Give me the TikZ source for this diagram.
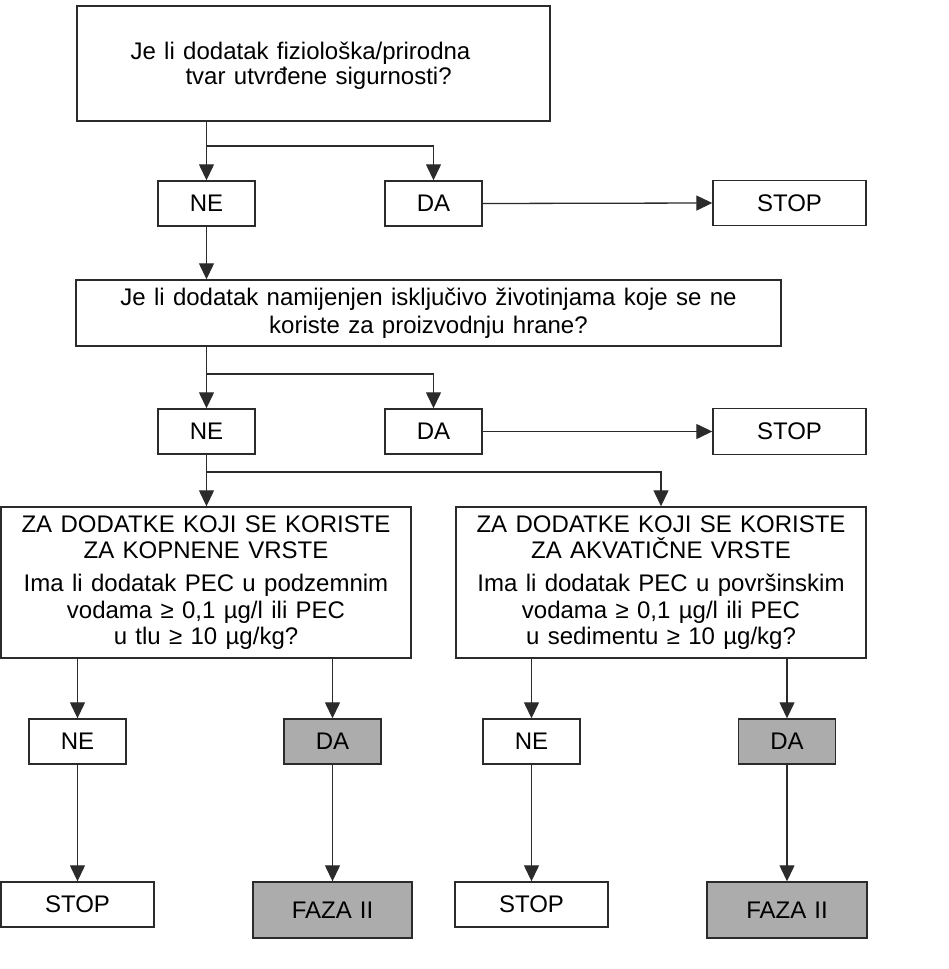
\documentclass[tikz,border=0pt]{standalone}
\usepackage{fontspec}
\setmainfont{Liberation Sans}[WordSpace=1.25]
\usetikzlibrary{arrows.meta}
\definecolor{ink}{HTML}{2B2B2B}
\definecolor{shade}{RGB}{172,172,172}
\begin{document}
\begin{tikzpicture}[x=1pt,y=-1pt,
  box/.style={draw=ink, line width=1.4pt, rectangle, inner sep=0pt,
    font=\fontsize{24}{26.5}\selectfont, align=center},
  small/.style={box, minimum width=97pt, minimum height=45pt},
  shaded/.style={fill=shade},
  arr/.style={draw=ink, line width=1.3pt, -{Triangle[width=15pt,length=16pt]}},
  ln/.style={draw=ink, line width=1.3pt},
  txt/.style={inner sep=0pt, font=\fontsize{24}{25}\selectfont}]
\useasboundingbox (0,0) rectangle (948,969);

% top question
\node[box, minimum width=473pt, minimum height=115pt] (q1) at (313.5,63.5) {};
\node[txt, align=left] (q1t) at (300.5,65.5)
  {Je li dodatak fiziološka/prirodna\\\hspace*{55pt}tvar utvrđene sigurnosti?};

\node[small] (ne1) at (206.5,203.5) {NE};
\node[small] (da1) at (433.5,203.5) {DA};
\node[box, minimum width=153pt, minimum height=45pt] (stop1) at (789.5,203) {STOP};

% second question
\node[box, minimum width=705pt, minimum height=66pt,
  font=\fontsize{24}{27.5}\selectfont] (q2) at (428.5,313)
  {Je li dodatak namijenjen isključivo životinjama koje se ne\\koriste za proizvodnju hrane?};

\node[small] (ne2) at (206.5,431.5) {NE};
\node[small] (da2) at (433.5,431.5) {DA};
\node[box, minimum width=153pt, minimum height=46pt] (stop2) at (789.5,431.5) {STOP};

% third level
\node[box, minimum width=410pt, minimum height=151pt] (q4) at (661,582.5)
  {ZA DODATKE KOJI SE KORISTE\\ZA AKVATIČNE VRSTE\\[6.5pt]Ima li dodatak PEC u površinskim\\vodama ≥ 0,1 µg/l ili PEC\\u sedimentu ≥ 10 µg/kg?};
\node[box, minimum width=410pt, minimum height=151pt] (q3) at (206,582.5)
  {ZA DODATKE KOJI SE KORISTE\\ZA KOPNENE VRSTE\\[6.5pt]Ima li dodatak PEC u podzemnim\\vodama ≥ 0,1 µg/l ili PEC\\u tlu ≥ 10 µg/kg?};

\node[small] (ne3) at (77.5,741.5) {NE};
\node[small, shaded] (da3) at (332.5,741.5) {DA};
\node[small] (ne4) at (531.5,741.5) {NE};
\node[small, shaded] (da4) at (787,741.5) {DA};

\node[box, minimum width=153pt, minimum height=45pt] (stop3) at (77.5,904.5) {STOP};
\node[box, shaded, minimum width=159pt, minimum height=56pt] (faza1) at (332.5,910) {FAZA\hspace{8pt}II};
\node[box, minimum width=153pt, minimum height=45pt] (stop4) at (531.5,904.5) {STOP};
\node[box, shaded, minimum width=160pt, minimum height=56pt] (faza2) at (787,910) {FAZA\hspace{8pt}II};

% branch points
\coordinate (b1) at (206.5,146);
\coordinate (b2) at (206.5,374);
\coordinate (b3) at (206.5,472);

% connectors
\draw[arr] (ne1.north |- q1.south) -- (ne1.north);
\draw[arr] (b1) -| (da1.north);
\draw[arr] (da1.east) -- (stop1.west);
\draw[arr] (ne1.south) -- (ne1.south |- q2.north);

\draw[arr] (ne2.north |- q2.south) -- (ne2.north);
\draw[arr] (b2) -| (da2.north);
\draw[arr] (da2.east) -- (stop2.west |- da2.east);
\draw[arr] (ne2.south) -- (ne2.south |- q3.north);
\draw[arr] (b3) -| (q4.north);

\draw[arr] (ne3.north |- q3.south) -- (ne3.north);
\draw[arr] (da3.north |- q3.south) -- (da3.north);
\draw[arr] (ne4.north |- q4.south) -- (ne4.north);
\draw[arr] (da4.north |- q4.south) -- (da4.north);

\draw[arr] (ne3.south) -- (stop3.north);
\draw[arr] (da3.south) -- (faza1.north);
\draw[arr] (ne4.south) -- (stop4.north);
\draw[arr] (da4.south) -- (faza2.north);
\end{tikzpicture}
\end{document}
